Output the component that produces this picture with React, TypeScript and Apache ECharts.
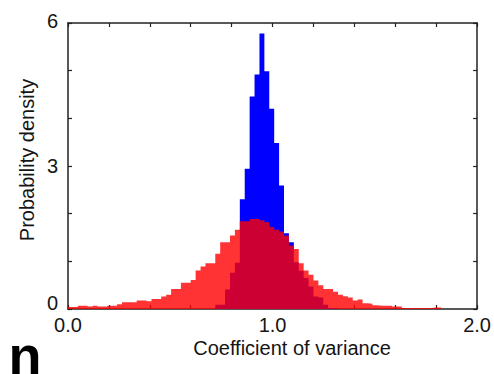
import React, { useEffect, useRef } from "react";
import * as echarts from "echarts";

// Histogram bin width (coefficient of variance units)
const BIN_WIDTH = 0.024;

// Wide (red) distribution: bins starting at 0.0
const redStartBin = 0;
const redDensity = [
  0.04, 0.04, 0.07, 0.07, 0.05, 0.07, 0.05, 0.05, 0.07, 0.07,
  0.10, 0.14, 0.14, 0.14, 0.18, 0.18, 0.16, 0.21, 0.21, 0.26,
  0.30, 0.42, 0.42, 0.55, 0.55, 0.61, 0.81, 0.89, 0.96, 0.96,
  1.16, 1.40, 1.40, 1.54, 1.66, 1.84, 1.84, 1.89, 1.89, 1.86,
  1.82, 1.72, 1.66, 1.62, 1.54, 1.33, 1.26, 0.96, 0.81, 0.72,
  0.60, 0.50, 0.42, 0.42, 0.36, 0.30, 0.27, 0.24, 0.18, 0.20,
  0.12, 0.11, 0.08, 0.07, 0.07, 0.07, 0.05, 0.05, 0.02, 0.02,
  0.02, 0.02, 0.02, 0.02, 0.03, 0.03,
];

// Narrow (blue) distribution: bins starting at bin 30 (0.72)
const blueStartBin = 30;
const blueDensity = [
  0.09, 0.09, 0.41, 0.76, 0.97, 2.30, 2.94, 4.46, 4.92, 5.78,
  4.99, 4.20, 3.48, 2.59, 1.59, 1.40, 0.98, 0.80, 0.65, 0.47,
  0.26, 0.24, 0.09, 0.02, 0.02,
];

const xTickLabels = ["0.0", "1.0", "2.0"];
const yTickLabels = ["0", "3", "6"];

const FONT = '"Liberation Sans", Arial, Helvetica, sans-serif';
const TEXT_COLOR = "#151515";

function stepPoints(startBin: number, values: number[]): number[][] {
  const pts: number[][] = values.map((v, i) => [
    +((startBin + i) * BIN_WIDTH).toFixed(4),
    v,
  ]);
  pts.push([
    +((startBin + values.length) * BIN_WIDTH).toFixed(4),
    values[values.length - 1],
  ]);
  return pts;
}

export default function App() {
  const ref = useRef<HTMLDivElement>(null);

  useEffect(() => {
    if (!ref.current) return;
    const chart = echarts.init(ref.current, undefined, { renderer: "svg" });

    const axisLine = { show: true, onZero: false, lineStyle: { color: "#222", width: 1.5 } };
    const tick = { show: true, inside: true, length: 4, lineStyle: { color: "#222", width: 1.2 } };

    chart.setOption({
      animation: false,
      backgroundColor: "#fff",
      grid: { left: 68, right: 15, top: 23, bottom: 65, containLabel: false },
      xAxis: [
        {
          type: "value",
          position: "bottom",
          min: 0,
          max: 2,
          interval: 0.2,
          axisLine,
          axisTick: tick,
          splitLine: { show: false },
          axisLabel: {
            margin: 6,
            fontSize: 20,
            fontFamily: FONT,
            color: TEXT_COLOR,
            formatter: (v: number) => {
              const s = v.toFixed(1);
              return xTickLabels.indexOf(s) >= 0 ? s : "";
            },
          },
        },
        {
          type: "value",
          position: "top",
          min: 0,
          max: 2,
          interval: 0.2,
          axisLine,
          axisTick: tick,
          splitLine: { show: false },
          axisLabel: { show: false },
        },
      ],
      yAxis: [
        {
          type: "value",
          position: "left",
          min: 0,
          max: 6,
          interval: 1,
          axisLine,
          axisTick: tick,
          splitLine: { show: false },
          axisLabel: {
            margin: 10,
            fontSize: 20,
            fontFamily: FONT,
            color: TEXT_COLOR,
            formatter: (v: number) => {
              const s = String(Math.round(v));
              if (yTickLabels.indexOf(s) < 0) return "";
              if (s === "0") return "{z|0}";
              if (s === "6") return "{t|6}";
              return "{n|" + s + "}";
            },
            rich: {
              z: { fontSize: 20, fontFamily: FONT, color: TEXT_COLOR, padding: [0, 0, 12, 0] },
              t: { fontSize: 20, fontFamily: FONT, color: TEXT_COLOR, padding: [0, 0, 5, 0] },
              n: { fontSize: 20, fontFamily: FONT, color: TEXT_COLOR },
            },
          },
        },
        {
          type: "value",
          position: "right",
          min: 0,
          max: 6,
          interval: 1,
          axisLine,
          axisTick: tick,
          splitLine: { show: false },
          axisLabel: { show: false },
        },
      ],
      series: [
        {
          name: "narrow",
          type: "line",
          step: "end",
          xAxisIndex: 0,
          yAxisIndex: 0,
          data: stepPoints(blueStartBin, blueDensity),
          showSymbol: false,
          symbol: "none",
          lineStyle: { width: 0, opacity: 0 },
          areaStyle: { color: "#0000ff", opacity: 1 },
          z: 1,
        },
        {
          name: "wide",
          type: "line",
          step: "end",
          xAxisIndex: 0,
          yAxisIndex: 0,
          data: stepPoints(redStartBin, redDensity),
          showSymbol: false,
          symbol: "none",
          lineStyle: { width: 0, opacity: 0 },
          areaStyle: { color: "#ff0000", opacity: 0.8 },
          z: 2,
        },
      ],
      graphic: [
        {
          type: "text",
          x: 292,
          y: 348,
          style: {
            text: "Coefficient of variance",
            font: `20px ${FONT}`,
            fill: TEXT_COLOR,
            align: "center",
            verticalAlign: "middle",
          },
        },
        {
          type: "text",
          x: 27,
          y: 160,
          rotation: Math.PI / 2,
          style: {
            text: "Probability density",
            font: `20px ${FONT}`,
            fill: TEXT_COLOR,
            align: "center",
            verticalAlign: "middle",
          },
        },
        {
          type: "text",
          x: 8.5,
          y: 355,
          style: {
            text: "n",
            font: `bold 54px ${FONT}`,
            fill: "#000",
            align: "left",
            verticalAlign: "middle",
          },
        },
      ],
    });

    return () => chart.dispose();
  }, []);

  return (
    <div
      ref={ref}
      style={{ position: "absolute", left: 0, top: 0, width: 494, height: 374 }}
    />
  );
}
